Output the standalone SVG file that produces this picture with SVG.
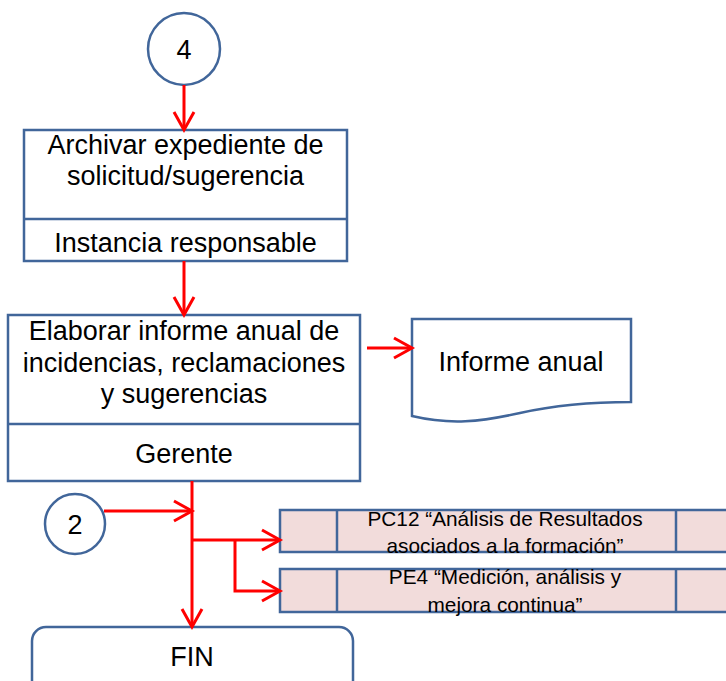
<svg xmlns="http://www.w3.org/2000/svg" width="726" height="681" viewBox="0 0 726 681">
<defs>
<style>
.shape{fill:#ffffff;stroke:#41669a;stroke-width:2.5}
.pp{fill:#f2dcdb;stroke:#41669a;stroke-width:2.5}
.t{font-family:"Liberation Sans",Arial,sans-serif;font-size:27px;fill:#000;text-anchor:middle}
.s{font-family:"Liberation Sans",Arial,sans-serif;font-size:20.8px;fill:#000;text-anchor:middle}
.c{fill:none;stroke:#ff0000;stroke-width:3}
</style>
<marker id="arr" markerUnits="userSpaceOnUse" markerWidth="24" markerHeight="24" refX="19" refY="11" orient="auto" viewBox="0 0 24 22">
<path d="M1,1 L19,11 L1,21" fill="none" stroke="#ff0000" stroke-width="3"/>
</marker>
</defs>
<rect width="726" height="681" fill="#ffffff"/>
<g id="node-c4">
<circle class="shape" cx="184" cy="49" r="36"/>
<text class="t" x="184" y="59">4</text>
</g>
<g id="node-archivar">
<rect class="shape" x="24" y="130" width="323" height="131"/>
<line x1="24" y1="219" x2="347" y2="219" stroke="#41669a" stroke-width="2.5"/>
<text class="t" x="185.5" y="154">Archivar expediente de</text>
<text class="t" x="185.5" y="185">solicitud/sugerencia</text>
<text class="t" x="185.5" y="252">Instancia responsable</text>
</g>
<g id="node-elaborar">
<rect class="shape" x="8" y="315" width="352" height="166"/>
<line x1="8" y1="424" x2="360" y2="424" stroke="#41669a" stroke-width="2.5"/>
<text class="t" x="184" y="340">Elaborar informe anual de</text>
<text class="t" x="184" y="372">incidencias, reclamaciones</text>
<text class="t" x="184" y="403">y sugerencias</text>
<text class="t" x="184" y="463">Gerente</text>
</g>
<g id="node-informe">
<path class="shape" d="M412,319 L631,319 L631,402 C600,402 560,404 520,413 C480,422 450,425 412,416 Z"/>
<text class="t" x="521" y="371">Informe anual</text>
</g>
<g id="node-c2">
<circle class="shape" cx="75" cy="524" r="30"/>
<text class="t" x="75" y="534">2</text>
</g>
<g id="node-pc12">
<rect class="pp" x="280" y="510" width="460" height="42"/>
<line x1="337" y1="510" x2="337" y2="552" stroke="#41669a" stroke-width="2.5"/>
<line x1="676" y1="510" x2="676" y2="552" stroke="#41669a" stroke-width="2.5"/>
<text class="s" x="505" y="526">PC12 “Análisis de Resultados</text>
<text class="s" x="505" y="553">asociados a la formación”</text>
</g>
<g id="node-pe4">
<rect class="pp" x="280" y="569" width="460" height="43"/>
<line x1="337" y1="569" x2="337" y2="612" stroke="#41669a" stroke-width="2.5"/>
<line x1="676" y1="569" x2="676" y2="612" stroke="#41669a" stroke-width="2.5"/>
<text class="s" x="505" y="584">PE4 “Medición, análisis y</text>
<text class="s" x="505" y="612">mejora continua”</text>
</g>
<g id="node-fin">
<rect class="shape" x="32" y="627" width="321" height="80" rx="14"/>
<text class="t" x="192" y="666">FIN</text>
</g>
<g id="connectors">
<line class="c" x1="184" y1="85" x2="184" y2="130" marker-end="url(#arr)"/>
<line class="c" x1="184" y1="261" x2="184" y2="315" marker-end="url(#arr)"/>
<line class="c" x1="367" y1="348" x2="412" y2="348" marker-end="url(#arr)"/>
<line class="c" x1="104" y1="511" x2="192" y2="511" marker-end="url(#arr)"/>
<line class="c" x1="192" y1="481" x2="192" y2="627" marker-end="url(#arr)"/>
<line class="c" x1="192" y1="540" x2="280" y2="540" marker-end="url(#arr)"/>
<polyline class="c" points="235,540 235,591 280,591" marker-end="url(#arr)"/>
</g>
</svg>
